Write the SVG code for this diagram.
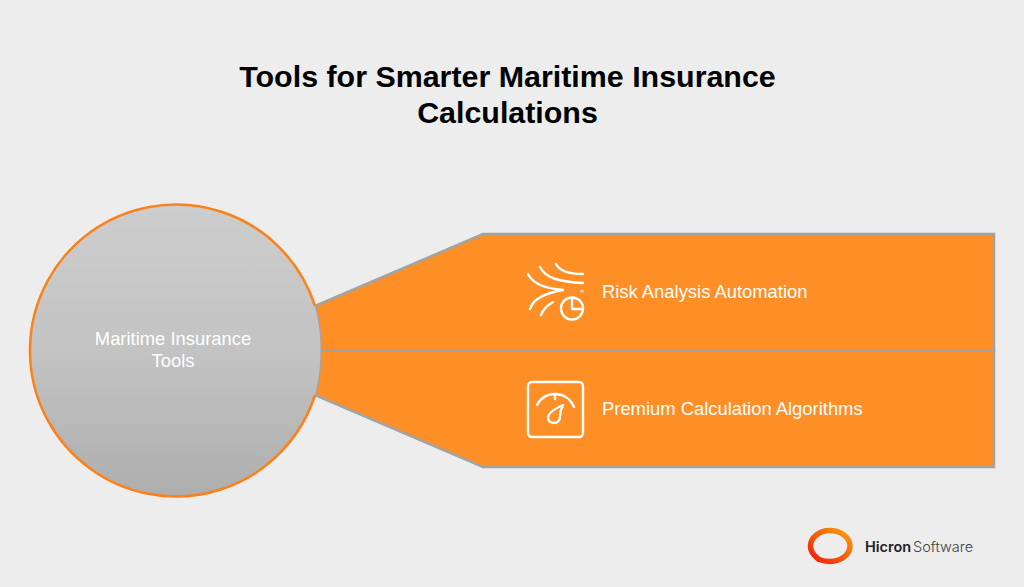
<svg xmlns="http://www.w3.org/2000/svg" width="1024" height="587" viewBox="0 0 1024 587">
<defs>
<linearGradient id="cg" x1="0" y1="0" x2="0" y2="1"><stop offset="0" stop-color="#cdcdcd"/><stop offset="0.5" stop-color="#c3c3c3"/><stop offset="1" stop-color="#aeaeae"/></linearGradient>
<linearGradient id="lg" x1="0" y1="1" x2="1" y2="0"><stop offset="0" stop-color="#ee1c0c"/><stop offset="0.55" stop-color="#f76408"/><stop offset="1" stop-color="#f8a014"/></linearGradient>
</defs>
<style>
.t{font-family:"Liberation Sans",Arial,sans-serif}
.title{font-size:30.400px;font-weight:700;fill:#000;text-anchor:middle}
.lab{font-size:18.400px;fill:#fff}
.seg{fill:#fe8f27;stroke:#a3a3a3;stroke-width:2.5;stroke-linejoin:miter}
.ic{fill:none;stroke:#fff;stroke-width:2.4;stroke-linecap:round;stroke-linejoin:round}
.logo{font-family:Inter,"Liberation Sans",sans-serif;font-size:14.500px}
</style>
<rect width="1024" height="587" fill="#ededed"/>
<g id="title"><text class="t title" x="507.500" y="87">Tools for Smarter Maritime Insurance</text><text class="t title" x="507.500" y="123">Calculations</text></g>
<g id="node-risk"><path class="seg" d="M315 306L483 234H994V350.500H320.500Q320.500 327 315 306Z"/></g>
<g id="node-premium"><path class="seg" d="M315 395L483 467H994V350.500H320.500Q320.500 374 315 395Z"/></g>
<g id="node-center">
<path d="M315 306A146 146 0 1 0 315 395Q320.500 374 320.500 350.500Q320.500 327 315 306Z" fill="url(#cg)"/>
<path d="M315 306A146 146 0 1 0 315 395" fill="none" stroke="#fb8118" stroke-width="2.5"/>
<text class="t lab" x="173" y="345" text-anchor="middle">Maritime Insurance</text>
<text class="t lab" x="173" y="367" text-anchor="middle">Tools</text>
</g>
<g id="icon-risk" class="ic">
<path d="M528 274C533 284 544 288 563 290"/>
<path d="M540 267C545 278 560 282 583 283"/>
<path d="M556 264C559 270 567 274 583 274"/>
<path d="M530 309C533 299 545 293 563 290"/>
<path d="M541 315C543 309 548 305 553 302"/>
<circle cx="582" cy="291" r="0.400"/>
<circle cx="572" cy="308.500" r="11"/>
<path d="M572 298V309H583"/>
</g>
<text class="t lab" x="602" y="297.500">Risk Analysis Automation</text>
<g id="icon-premium" class="ic">
<rect x="528" y="382" width="55" height="55" rx="4"/>
<path d="M537 405C544 390 567 390 574 407"/>
<path d="M555 395V399"/>
<path d="M563 405C561 409 560 412 560 416C560 421 557 423 554 423C551 423 548 421 548 418C548 412 556 408 563 405Z"/>
</g>
<text class="t lab" x="602" y="414.500">Premium Calculation Algorithms</text>
<g id="logo">
<path d="M830 530.500C841 530.500 850 537.500 850 546C850 554.500 841 561.500 830 561.500C826 561.500 822 560.500 819 559.500L816.500 557.500C812.500 554 810.500 550 810.500 546C810.500 537.500 819 530.500 830 530.500Z" fill="none" stroke="url(#lg)" stroke-width="5.500"/>
<text class="logo" x="865" y="552" font-weight="600" fill="#222">Hicron</text>
<text class="logo" x="913" y="552" font-weight="300" fill="#444">Software</text>
</g>
</svg>
